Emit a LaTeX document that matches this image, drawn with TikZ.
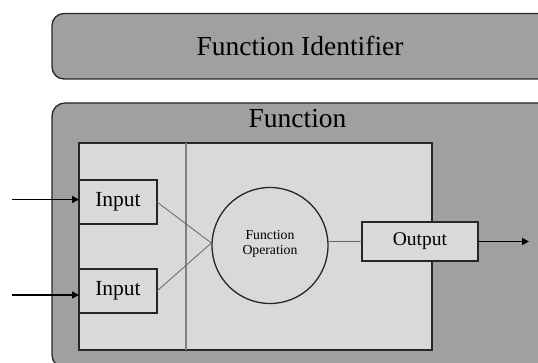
\documentclass[tikz,border=0pt]{standalone}
\usepackage{fontspec}
\setmainfont{Liberation Serif}
\usetikzlibrary{arrows.meta}
\definecolor{darkfill}{HTML}{A0A0A0}
\definecolor{lightfill}{HTML}{D9D9D9}
\definecolor{edge}{HTML}{262626}
\definecolor{thinline}{HTML}{666666}
\definecolor{divline}{HTML}{808080}
\begin{document}
\begin{tikzpicture}[x=1pt,y=-1pt,
  bigbox/.style={draw=edge, line width=1.3pt, fill=darkfill, rounded corners=12pt},
  panel/.style={draw=edge, line width=1.3pt, fill=lightfill, inner sep=0pt, outer sep=0pt},
  smallbox/.style={draw=edge, line width=1.3pt, fill=lightfill, inner sep=0pt, outer sep=0pt, anchor=north west},
  link/.style={draw=thinline, line width=0.8pt},
  flow/.style={draw=black, line width=1.7pt, -{Triangle[length=7pt,width=7pt]}},
  bigtext/.style={font=\fontsize{27.5}{33}\selectfont},
  boxtext/.style={font=\fontsize{21.5}{26}\selectfont},
  outtext/.style={font=\fontsize{19.5}{24}\selectfont},
  optext/.style={font=\fontsize{13.75}{17}\selectfont, align=center}]
\useasboundingbox (0,0) rectangle (538,363);
\clip (0,0) rectangle (538,363);
% top identifier box
\path[bigbox] (52,13.5) rectangle (580,79);
\node[bigtext] (ident) at (300,46) {Function Identifier};
% outer function box
\path[bigbox, rounded corners=13pt] (52,103) rectangle (580,368);
\node[bigtext, anchor=base] (fname) at (297.5,128) {Function};
% inner panel
\node[panel, anchor=north west, minimum width=353pt, minimum height=207pt] (panel) at (79,143) {};
\draw[draw=divline, line width=1.3pt] (186,143) -- (186,350);
% input boxes
\node[smallbox, minimum width=78pt, minimum height=44pt] (in1) at (79,180) {};
\node[boxtext] (in1t) at (in1.center) {Input};
\node[smallbox, minimum width=78pt, minimum height=44pt] (in2) at (79,269) {};
\node[boxtext] (in2t) at (in2.center) {Input};
% operation circle
\node[circle, draw=edge, line width=1.3pt, fill=lightfill, minimum size=116pt, inner sep=0pt] (op) at (270,245.5) {};
\node[optext] (opt) at (270,244) {Function\\[-2pt]Operation};
% output box
\node[smallbox, minimum width=116pt, minimum height=39pt] (out) at (362,222) {};
\node[outtext] (outt) at (out.center) {Output};
% connectors
\draw[link] (in1.east) -- ([yshift=2.5pt]op.west);
\draw[link] (in2.east) -- ([yshift=2.5pt]op.west);
\draw[link] (out.west) -- (op.east |- out.west);
% arrows
\coordinate (src1) at (12,199.5);
\coordinate (src2) at (12,295);
\coordinate (dst) at (529,241.5);
\draw[flow] (src1) -- (src1 -| in1.west);
\draw[flow] (src2) -- (src2 -| in2.west);
\draw[flow] (out.east) -- (dst);
\end{tikzpicture}
\end{document}
